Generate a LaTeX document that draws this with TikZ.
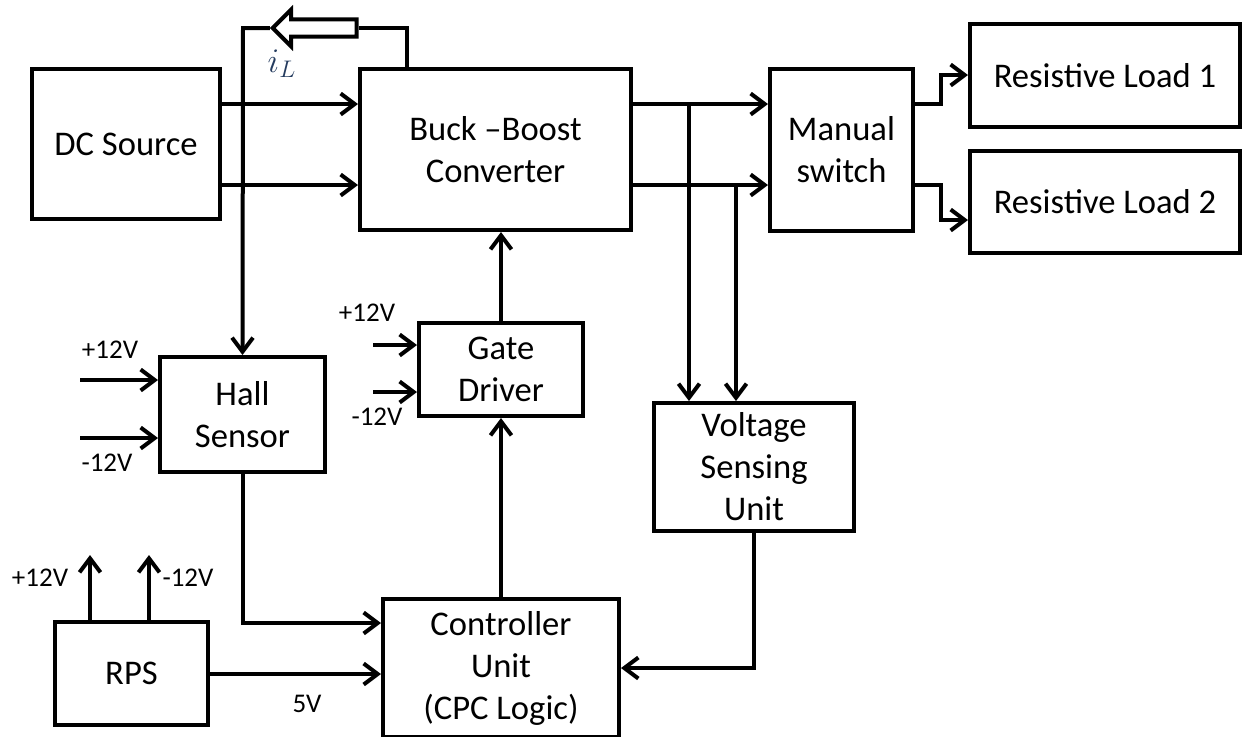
\documentclass[tikz,border=0pt]{standalone}
\usepackage{fontspec}
\setmainfont{Carlito}
\usepackage{tikz}
\usetikzlibrary{positioning, arrows.meta, shapes.arrows}
\definecolor{ilnavy}{HTML}{243B5E}
\tikzset{
    blk/.style={draw, line width=2pt, align=center, inner sep=0pt,
                font=\fontsize{17.3}{21}\selectfont},
    wire/.style={line width=2pt},
    feed/.style={wire, -{Straight Barb[length=7pt,width=10.5pt]}},
    vlabel/.style={inner sep=0pt, font=\fontsize{13.5}{16}\selectfont}
}

\begin{document}
\begin{tikzpicture}[x=0.5pt, y=-0.5pt]
    \useasboundingbox (0,0) rectangle (1242,736);

    \node[blk, minimum width=94pt, minimum height=75pt] (dc) at (126,144) {DC Source};
    \node[blk, minimum width=135.5pt, minimum height=80.5pt] (buck) at (495.5,149.5) {Buck –Boost\\Converter};
    \node[blk, minimum width=71.5pt, minimum height=81pt] (sw) at (841.5,150) {Manual\\switch};
    \node[blk, minimum width=135pt, minimum height=51.5pt] (loadA) at (1105,75.5) {Resistive Load 1};
    \node[blk, minimum width=135pt, minimum height=51pt] (loadB) at (1105,202) {Resistive Load 2};
    \node[blk, minimum width=82.5pt, minimum height=57.5pt] (hall) at (242.5,414.5) {Hall\\Sensor};
    \node[blk, minimum width=82pt, minimum height=46.5pt] (gate) at (501,369.5) {Gate\\Driver};
    \node[blk, minimum width=100pt, minimum height=64pt] (vsu) at (754,467) {Voltage\\Sensing\\Unit};
    \node[blk, minimum width=118pt, minimum height=69pt] (ctrl) at (501,668) {Controller\\Unit\\(CPC Logic)};
    \node[blk, minimum width=76.5pt, minimum height=51.5pt] (rps) at (131.5,673.5) {RPS};

    \node[single arrow, draw, line width=2pt, shape border rotate=180, inner xsep=0pt, inner ysep=3.3pt,
          minimum height=42pt, minimum width=16.5pt, single arrow head extend=4.9pt] (iarr) at (319,28) {};
    \node[color=ilnavy, font=\fontsize{17}{21}\selectfont] (iL) at (282,64) {$i_L$};

    \coordinate (yA) at (0,104);
    \coordinate (yB) at (0,185);
    \coordinate (tapA) at (689,104);
    \coordinate (tapB) at (736,185);
    \coordinate (bendA) at (941,75);
    \coordinate (bendB) at (941,220);
    \coordinate (fbR) at (407,28);
    \coordinate (fbL) at (243,28);
    \coordinate (yHall) at (0,623);
    \coordinate (yRps) at (0,674);
    \coordinate (yVsu) at (0,668);
    \coordinate (hinA) at (80,380);
    \coordinate (hinB) at (80,438);
    \coordinate (ginA) at (373,345);
    \coordinate (ginB) at (373,392);
    \coordinate (routA) at (90,555);
    \coordinate (routB) at (149,555);

    \draw[feed] (dc.east |- yA) -- (buck.west |- yA);
    \draw[feed] (dc.east |- yB) -- (buck.west |- yB);
    \draw[feed] (buck.east |- yA) -- (sw.west |- yA);
    \draw[feed] (buck.east |- yB) -- (sw.west |- yB);
    \draw[feed] (tapA) -- (tapA |- vsu.north);
    \draw[feed] (tapB) -- (tapB |- vsu.north);
    \draw[feed] (sw.east |- yA) -| (bendA) -- (loadA.west |- bendA);
    \draw[feed] (sw.east |- yB) -| (bendB) -- (loadB.west |- bendB);

    \draw[wire] (buck.north -| fbR) -- (fbR) -- (iarr.tail);
    \draw[feed] (iarr.tip) -- (fbL) -- (hall.north);

    \draw[feed] (hinA) -- (hinA -| hall.west);
    \draw[feed] (hinB) -- (hinB -| hall.west);
    \draw[feed] (ginA) -- (ginA -| gate.west);
    \draw[feed] (ginB) -- (ginB -| gate.west);
    \draw[feed] (gate.north) -- (buck.south -| gate.north);
    \draw[feed] (ctrl.north) -- (gate.south);
    \draw[feed] (hall.south) |- (ctrl.west |- yHall);
    \draw[feed] (rps.east |- yRps) -- (ctrl.west |- yRps);
    \draw[feed] (vsu.south) |- (ctrl.east |- yVsu);
    \draw[feed] (routA |- rps.north) -- (routA);
    \draw[feed] (routB |- rps.north) -- (routB);

    \node[vlabel] (lbHp) at (110,350) {+12V};
    \node[vlabel] (lbHm) at (107,463) {-12V};
    \node[vlabel] (lbGp) at (367,313) {+12V};
    \node[vlabel] (lbGm) at (377,417) {-12V};
    \node[vlabel] (lbRp) at (40,578) {+12V};
    \node[vlabel] (lbRm) at (188,578) {-12V};
    \node[vlabel] (lb5v) at (307,704) {5V};
\end{tikzpicture}
\end{document}
